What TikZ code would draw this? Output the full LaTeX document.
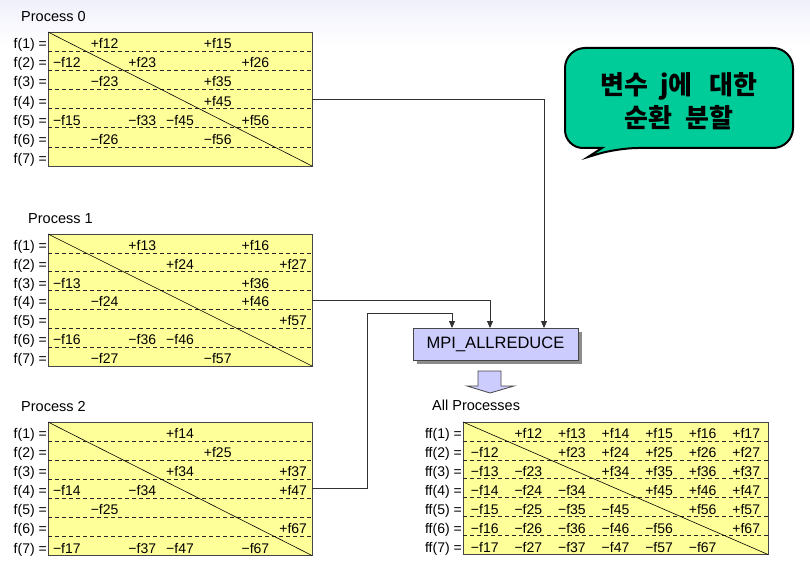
\documentclass[tikz,border=0pt]{standalone}
\usepackage{fontspec}
\setmainfont{Liberation Sans}
\newfontfamily\krfont{Noto Sans CJK KR}
\usetikzlibrary{arrows.meta,calc,shadows}
\definecolor{cellfill}{RGB}{255,255,153}
\definecolor{gridline}{RGB}{70,70,70}
\definecolor{lav}{RGB}{204,204,255}
\definecolor{notegreen}{RGB}{0,204,153}
\definecolor{bgtop}{RGB}{240,240,252}
\definecolor{connc}{RGB}{50,50,50}
\newcommand{\mkgrid}[6]{%
  \node[grid, minimum width=#4pt, minimum height=#5pt, anchor=north west] (#1) at (#2,#3) {};
  \foreach \r in {1,...,6}{\draw[rowline] ($(#1.north west)!\r/7!(#1.south west)$) -- ($(#1.north east)!\r/7!(#1.south east)$);}
  \draw[diag] (#1.north west) -- (#1.south east);
  \foreach \r in {1,...,7}{\node[rowlab] (#1l\r) at ($(#1.north west)!\r/7!(#1.south west)+(-1,-2.5)$) {#6(\r) =};}
  \def\gl{#2}\def\gt{#3}\pgfmathsetmacro\gw{#4/7}\pgfmathsetmacro\gh{#5/7}%
}
\newcommand{\ent}[4]{\node[cell] (#1r#2c#3) at ({\gl+(#3-0.5)*\gw},{\gt+#2*\gh-2.5}) {#4};}
\begin{document}
\begin{tikzpicture}[x=1pt,y=-1pt,
  grid/.style={draw=gridline, fill=cellfill, line width=0.8pt, inner sep=0pt, outer sep=0pt},
  rowline/.style={draw=black!85, dash pattern=on 4pt off 3pt, line width=0.6pt},
  diag/.style={draw=black, line width=0.6pt},
  rowlab/.style={anchor=base east, inner sep=0pt, font=\fontsize{14}{14}\selectfont},
  cell/.style={anchor=base, inner sep=0pt, font=\fontsize{14}{14}\selectfont},
  title/.style={anchor=base west, inner sep=0pt, font=\fontsize{14.5}{15}\selectfont},
  conn/.style={draw=connc, line width=0.9pt, -{Triangle[length=7pt,width=6pt]}},
  mpi/.style={draw=gridline, fill=lav, line width=0.8pt, minimum width=165pt, minimum height=32pt, inner sep=0pt,
    drop shadow={shadow xshift=3.5pt, shadow yshift=-3.5pt, fill=black!45, opacity=1},
    font=\fontsize{16.5}{17}\selectfont},
  blockarrow/.style={draw=gridline, fill=lav, line width=0.8pt},
  callout/.style={draw=black, fill=notegreen, line width=2pt},
  calltext/.style={align=center, inner sep=0pt, font=\krfont\bfseries\fontsize{26}{33}\selectfont}
]
\useasboundingbox (0,0) rectangle (810,561);
\fill[white] (0,0) rectangle (810,561);
\shade[top color=bgtop, bottom color=white] (0,0) rectangle (810,45);

% titles
\node[title] (t0) at (21,22) {Process 0};
\node[title] (t1) at (28,224) {Process 1};
\node[title] (t2) at (21,411.5) {Process 2};
\node[title] (ta) at (432,410.5) {All Processes};

% Process 0
\mkgrid{p0}{48}{32}{264}{134}{f}
\ent{p0}{1}{2}{+f12}\ent{p0}{1}{5}{+f15}
\ent{p0}{2}{1}{−f12}\ent{p0}{2}{3}{+f23}\ent{p0}{2}{6}{+f26}
\ent{p0}{3}{2}{−f23}\ent{p0}{3}{5}{+f35}
\ent{p0}{4}{5}{+f45}
\ent{p0}{5}{1}{−f15}\ent{p0}{5}{3}{−f33}\ent{p0}{5}{4}{−f45}\ent{p0}{5}{6}{+f56}
\ent{p0}{6}{2}{−f26}\ent{p0}{6}{5}{−f56}

% Process 1
\mkgrid{p1}{48}{234}{264}{132}{f}
\ent{p1}{1}{3}{+f13}\ent{p1}{1}{6}{+f16}
\ent{p1}{2}{4}{+f24}\ent{p1}{2}{7}{+f27}
\ent{p1}{3}{1}{−f13}\ent{p1}{3}{6}{+f36}
\ent{p1}{4}{2}{−f24}\ent{p1}{4}{6}{+f46}
\ent{p1}{5}{7}{+f57}
\ent{p1}{6}{1}{−f16}\ent{p1}{6}{3}{−f36}\ent{p1}{6}{4}{−f46}
\ent{p1}{7}{2}{−f27}\ent{p1}{7}{5}{−f57}

% Process 2
\mkgrid{p2}{48}{422}{264}{133.5}{f}
\ent{p2}{1}{4}{+f14}
\ent{p2}{2}{5}{+f25}
\ent{p2}{3}{4}{+f34}\ent{p2}{3}{7}{+f37}
\ent{p2}{4}{1}{−f14}\ent{p2}{4}{3}{−f34}\ent{p2}{4}{7}{+f47}
\ent{p2}{5}{2}{−f25}
\ent{p2}{6}{7}{+f67}
\ent{p2}{7}{1}{−f17}\ent{p2}{7}{3}{−f37}\ent{p2}{7}{4}{−f47}\ent{p2}{7}{6}{−f67}

% All processes
\mkgrid{pa}{463}{422}{305}{132.5}{ff}
\foreach \i in {1,...,7}{\foreach \j in {1,...,7}{%
  \ifnum\j>\i \ent{pa}{\i}{\j}{+f\i\j}\fi
  \ifnum\j<\i \ent{pa}{\i}{\j}{−f\j\i}\fi}}

% MPI_ALLREDUCE
\node[mpi] (mpi) at (495.5,344) {MPI\_ALLREDUCE};
\coordinate (m0) at (544,328);
\coordinate (m1) at (490,328);
\coordinate (m2) at (452,328);
\coordinate (k2) at (367,313);
\draw[conn] (p0.east) -| (m0);
\draw[conn] (p1.east) -| (m1);
\draw[conn] (p2.east) -| (k2) -| (m2);

% block arrow
\draw[blockarrow] (478,371) -- (501,371) -- (501,386) -- (514,386) -- (490,393) -- (467,386) -- (478,386) -- cycle;

% callout
\draw[callout] (565,100) [rounded corners=20pt] -- (565,48) -- (793,48) -- (793,148) -- (618,148) [sharp corners] -- (588,157) -- (602,148) [rounded corners=18pt] -- (565,148) -- (565,100) -- cycle;
\node[calltext] (note) at (679,101) {변수\hspace{12pt}j에\hspace{17pt}대한\\순환\hspace{13pt}분할};
\end{tikzpicture}
\end{document}
